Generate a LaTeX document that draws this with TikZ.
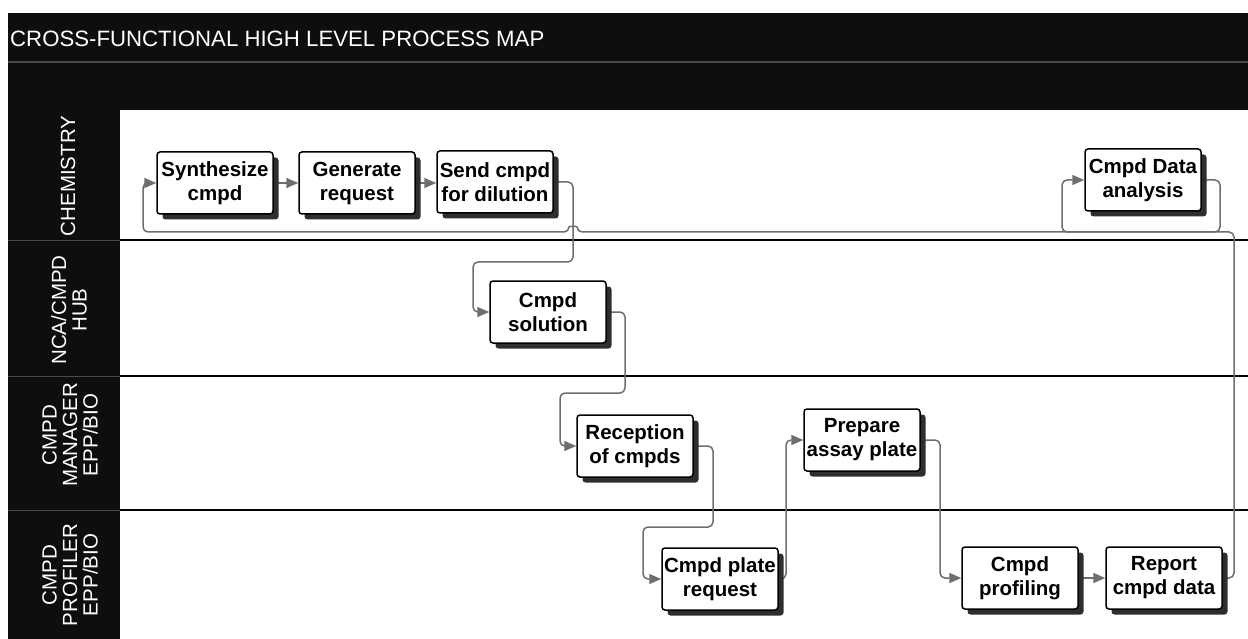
\documentclass[tikz,border=0pt]{standalone}
\usepackage{fontspec}
\setmainfont{Liberation Sans}
\usetikzlibrary{arrows.meta,shadows}
\pgfdeclarelayer{bg}
\pgfdeclarelayer{conn}
\pgfsetlayers{bg,conn,main}
\definecolor{barblack}{HTML}{0E0E0E}
\definecolor{conngray}{HTML}{6E6E6E}
\definecolor{sepgray}{HTML}{4A4A4A}
\tikzset{
  procbox/.style={draw=black, line width=1.5pt, fill=white, rounded corners=3pt,
    minimum width=116pt, minimum height=62pt, inner sep=0pt, align=center,
    font=\bfseries\fontsize{20.5}{24}\selectfont,
    drop shadow={shadow xshift=5.5pt, shadow yshift=-5.5pt, fill=black!82, opacity=1}},
  conn/.style={draw=conngray, line width=1.5pt, rounded corners=5pt,
    -{Triangle[length=12pt,width=10pt]}},
  lanelabel/.style={rotate=90, align=center, text=white,
    font=\fontsize{20.5}{20.5}\selectfont},
  laneline/.style={draw=black, line width=1.8pt},
  colsep/.style={draw=sepgray, line width=0.8pt}
}
\begin{document}
\begin{tikzpicture}[x=1pt,y=-1pt]
\begin{pgfonlayer}{bg}
  \fill[white] (0,0) rectangle (1248,639);
  \useasboundingbox (0,0) rectangle (1248,639);
  % title and header bars
  \fill[barblack] (8,13) rectangle (1248,110);
  \draw[sepgray, line width=1.2pt] (8,62) -- (1248,62);
  % left column
  \fill[barblack] (8,110) rectangle (120,639);
  \draw[colsep] (8,240) -- (120,240);
  \draw[colsep] (8,376) -- (120,376);
  \draw[colsep] (8,510) -- (120,510);
  % lane lines
  \draw[laneline] (120,240) -- (1248,240);
  \draw[laneline] (120,376) -- (1248,376);
  \draw[laneline] (120,510) -- (1248,510);
\end{pgfonlayer}

\node[anchor=west, text=white, font=\fontsize{22.2}{24}\selectfont, inner sep=0pt] (title) at (10,39) {CROSS-FUNCTIONAL HIGH LEVEL PROCESS MAP};

\node[lanelabel] (l1) at (68,176) {CHEMISTRY};
\node[lanelabel] (l2) at (69,310) {NCA/CMPD\\HUB};
\node[lanelabel] (l3) at (70,435) {CMPD\\MANAGER\\EPP/BIO};
\node[lanelabel] (l4) at (70,575) {CMPD\\PROFILER\\EPP/BIO};

\node[procbox] (synth) at (215,183) {Synthesize\\cmpd};
\node[procbox] (gen) at (357,183) {Generate\\request};
\node[procbox] (send) at (495,182) {Send cmpd\\for dilution};
\node[procbox] (ana) at (1143,180) {Cmpd Data\\analysis};
\node[procbox] (sol) at (548,312) {Cmpd\\solution};
\node[procbox] (rec) at (635,446) {Reception\\of cmpds};
\node[procbox] (prep) at (862,440) {Prepare\\assay plate};
\node[procbox] (plate) at (720,579) {Cmpd plate\\request};
\node[procbox] (prof) at (1020,578) {Cmpd\\profiling};
\node[procbox] (rep) at (1164,578) {Report\\cmpd data};

\begin{pgfonlayer}{conn}
  \draw[conn] (synth.east) -- (gen.west);
  \draw[conn] (gen.east) -- (send.west |- gen.east);
  \draw[conn] (send.east) -| (573,262) -| (473,312) -- (sol.west);
  \draw[conn] (sol.east) -| (625,393) -| (560,446) -- (rec.west);
  \draw[conn] (rec.east) -| (713,527) -| (643,579) -- (plate.west);
  \draw[conn] (plate.east) -| (786,440) -- (prep.west);
  \draw[conn] (prep.east) -| (940,578) -- (prof.west);
  \draw[conn] (prof.east) -- (rep.west);
  \draw[conn] (rep.east) -| (1234,232) -- (1062,232) |- (ana.west);
  \draw[conn] (ana.east) -| (1220,232) -- (577,232)
     .. controls (577,226) and (569,226) .. (569,232)
     -- (143,232) |- (synth.west);
\end{pgfonlayer}
\end{tikzpicture}
\end{document}
